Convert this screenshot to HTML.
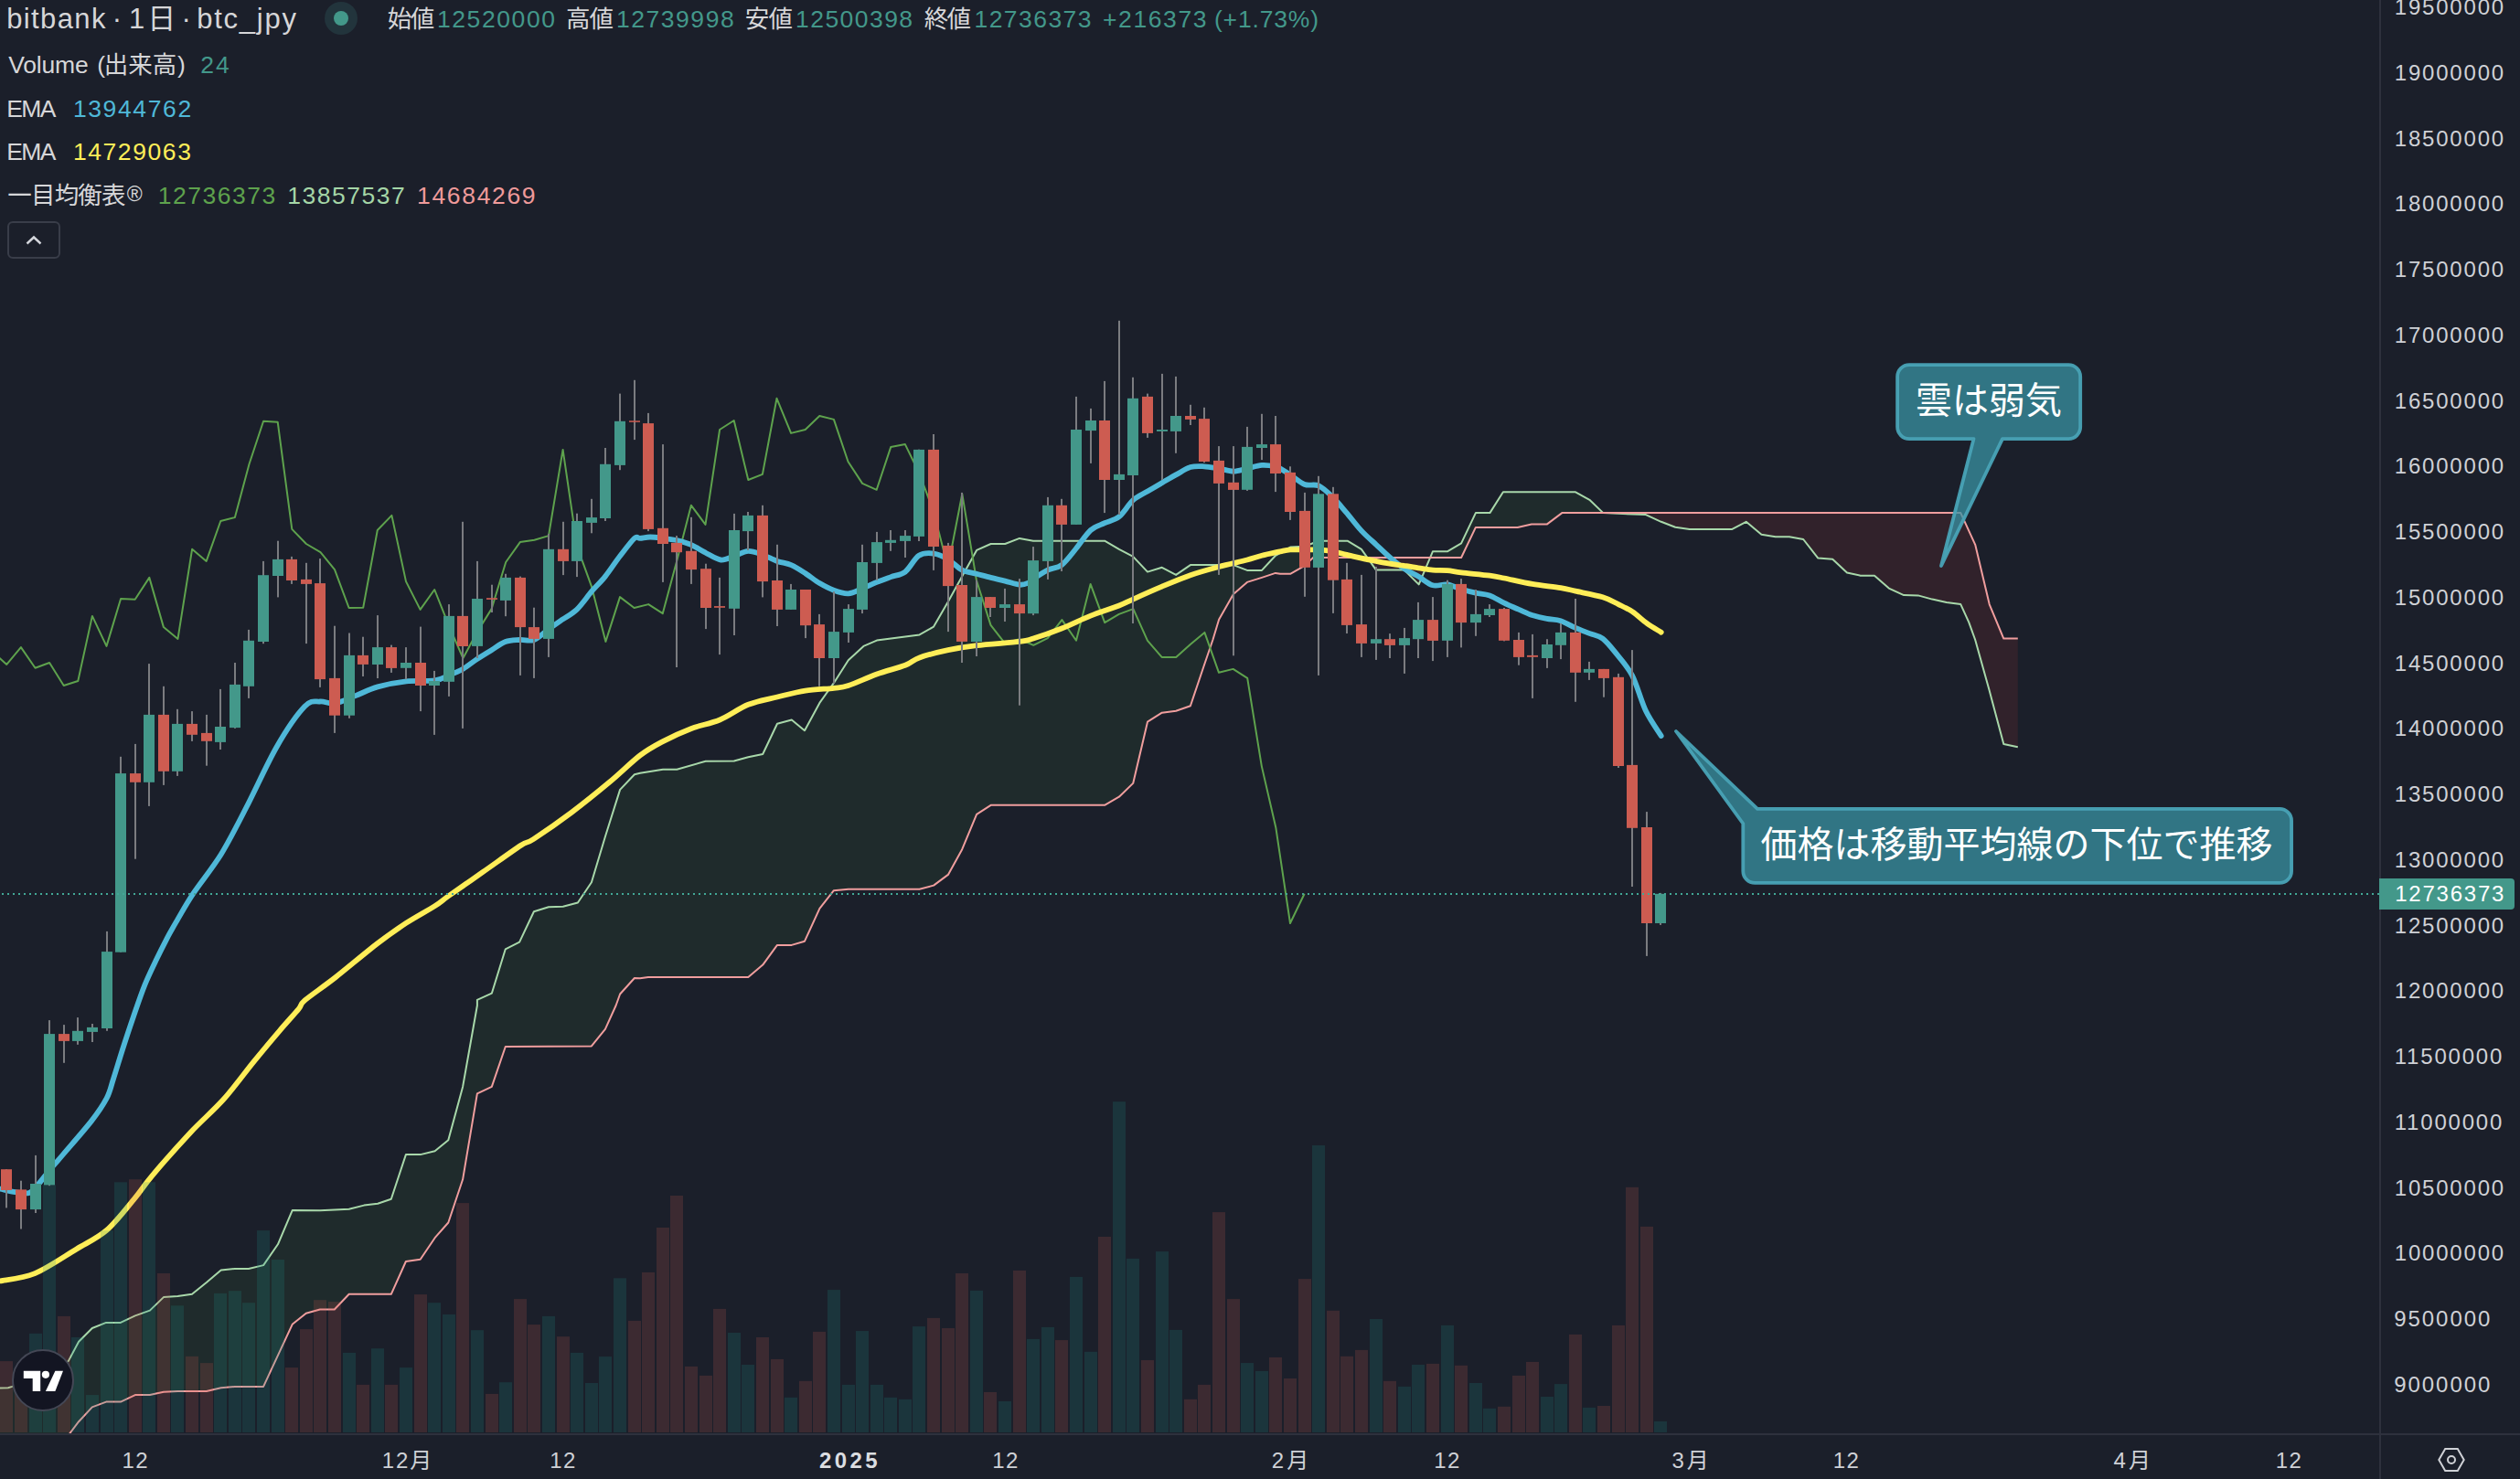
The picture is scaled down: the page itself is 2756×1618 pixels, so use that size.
<!DOCTYPE html><html><head><meta charset="utf-8"><title>chart</title><style>
html,body{margin:0;padding:0;background:#1b1f2a;}body{width:2756px;height:1618px;position:relative;overflow:hidden;font-family:"Liberation Sans","Noto Sans CJK JP",sans-serif;color:#d1d4dc;}
.t{position:absolute;white-space:nowrap;line-height:1;}
</style></head><body>
<svg width="2756" height="1618" viewBox="0 0 2756 1618" style="position:absolute;left:0;top:0">
<defs><clipPath id="cp"><rect x="0" y="0" width="2602" height="1568"/></clipPath></defs>
<g clip-path="url(#cp)">
<path d="M-2.8 1518.6 L0 1518.5 L8.9 1518.3 L13.3 1516.9 L22.8 1513.6 L27.8 1511.4 L38.9 1506.6 L53.9 1502.4 L55.6 1501.6 L69.4 1494.1 L75 1488.6 L76.4 1486 L86.1 1467.7 L100.8 1453 L116.1 1446.9 L131.9 1446.9 L147.8 1439.4 L163.9 1433.6 L178.9 1419.1 L194.4 1418 L210 1415.8 L225.8 1403 L241.7 1389.4 L256.9 1388 L271.9 1388 L288.1 1384.1 L303.9 1361.3 L319.7 1324.1 L334.7 1324.1 L350 1324.2 L365.8 1323.5 L381.7 1322.8 L398.1 1318.6 L413.1 1316.7 L427.8 1311.7 L443.9 1263.1 L459.7 1263.1 L475.6 1259.2 L490.3 1247.2 L506.1 1188.9 L521.9 1093.9 L537.8 1086.7 L552.8 1038.3 L568.1 1030.6 L583.9 997.2 L600 992.2 L615.8 991.7 L631.9 987.5 L646.9 965.3 L661.9 915.3 L673.6 878.1 L678.1 863.9 L693.9 847.2 L700 845.8 L708.9 844.4 L725 841.7 L740.3 841.7 L771.7 832.8 L802.8 832.5 L818.3 828.3 L834.2 825 L850 791.7 L865.8 787.5 L880 799.2 L896.4 768.9 L911.9 747.2 L927.8 722.2 L944.4 706.9 L958.9 700.6 L974.4 698.6 L990 696.4 L1005.6 694.4 L1021.1 685.6 L1036.9 658.3 L1052.2 630.6 L1068.1 601.9 L1083.6 595 L1099.2 595 L1115 588.9 L1130 591.7 L1208.1 591.7 L1223.9 600.8 L1239.2 608.9 L1255 625.6 L1270.8 620.8 L1286.1 628.9 L1301.9 618.1 L1316.9 618.1 L1326.4 618.1 L1333.1 618.1 L1348.9 618.1 L1363.9 623.9 L1380 623.9 L1395 607.8 L1400 604.9 L1411.1 598.6 L1426.9 597.8 L1436.1 594.1 L1442.2 591.7 L1473.6 591.7 L1488.9 600.8 L1495.4 610 L1495.4 610 L1488.9 610 L1473.6 610 L1442.2 610 L1436.1 610 L1426.9 618.9 L1411.1 627.8 L1400 627.8 L1395 626.9 L1380 631.9 L1363.9 636.9 L1348.9 650 L1333.1 677.8 L1326.4 700 L1316.9 727.8 L1301.9 772.2 L1286.1 777.8 L1270.8 779.7 L1255 789.7 L1239.2 856.9 L1223.9 871.7 L1208.1 880.8 L1130 880.8 L1115 880.8 L1099.2 880.8 L1083.6 880.8 L1068.1 890.8 L1052.2 929.2 L1036.9 956.9 L1021.1 968.6 L1005.6 972.8 L990 972.8 L974.4 972.8 L958.9 972.8 L944.4 972.8 L927.8 972.8 L911.9 974.2 L896.4 993.9 L880 1029.7 L865.8 1033.9 L850 1033.9 L834.2 1055.6 L818.3 1068.9 L802.8 1068.9 L771.7 1068.9 L740.3 1068.9 L725 1068.9 L708.9 1068.9 L700 1070.3 L693.9 1070 L678.1 1087.5 L673.6 1100 L661.9 1125.8 L646.9 1144.4 L631.9 1144.5 L615.8 1144.6 L600 1144.7 L583.9 1144.8 L568.1 1144.9 L552.8 1145 L537.8 1188.9 L521.9 1196.4 L506.1 1290.3 L490.3 1337.5 L475.6 1354.2 L459.7 1377.8 L443.9 1380 L427.8 1415.8 L413.1 1415.8 L398.1 1415.8 L381.7 1415.8 L365.8 1432.5 L350 1432.5 L334.7 1436.7 L319.7 1448.8 L303.9 1482.9 L288.1 1516.9 L271.9 1516.9 L256.9 1516.9 L241.7 1518.3 L225.8 1521.9 L210 1521.9 L194.4 1521.9 L178.9 1522.7 L163.9 1526.1 L147.8 1526.1 L131.9 1533.6 L116.1 1533.6 L100.8 1539.4 L86.1 1555.2 L76.4 1568 L75 1569.9 L69.4 1577.6 L55.6 1596.9 L53.9 1599.6 L38.9 1623.6 L27.8 1641.3 L22.8 1648.3 L13.3 1661.6 L8.9 1667.8 L0 1680.2 L-2.8 1680.2ZM1564.1 610 L1566.9 603.3 L1582.8 603.3 L1598.1 594.4 L1613.9 561.1 L1629.4 561.1 L1643.9 538.3 L1659.7 538.3 L1675 538.3 L1691.7 538.3 L1708.3 538.3 L1723.1 538.3 L1738.9 547.2 L1753.3 561.1 L1753.3 561.1 L1738.9 561.1 L1723.1 561.1 L1708.3 561.1 L1691.7 573.6 L1675 573.6 L1659.7 576.9 L1643.9 576.9 L1629.4 576.9 L1613.9 576.9 L1598.1 610 L1582.8 610 L1566.9 610 L1564.1 610Z" fill="rgba(67,160,71,0.1)"/>
<path d="M1495.4 610 L1505 623.6 L1535.8 623.6 L1551.7 639.4 L1564.1 610 L1564.1 610 L1551.7 610 L1535.8 610 L1505 610 L1495.4 610ZM1753.3 561.1 L1800 563.1 L1816.7 570.8 L1832.2 576.7 L1847.8 578.9 L1894.4 578.9 L1909.7 570.8 L1926.4 584.7 L1941.7 587.2 L1956.9 587.2 L1972.2 590 L1988.3 610.6 L2004.2 611.7 L2020 626.4 L2034.7 629.7 L2050 629.7 L2065.8 643.6 L2082.1 651.1 L2097.7 651.4 L2113.2 655.6 L2128.8 658.9 L2144.3 661.1 L2153.2 680.6 L2160.2 700 L2175.7 755.6 L2191.3 813.9 L2206.8 817.2 L2206.8 698.6 L2191.3 698.6 L2175.7 661.1 L2160.2 595.8 L2153.2 580.6 L2144.3 561.1 L2128.8 561.1 L2113.2 561.1 L2097.7 561.1 L2082.1 561.1 L2065.8 561.1 L2050 561.1 L2034.7 561.1 L2020 561.1 L2004.2 561.1 L1988.3 561.1 L1972.2 561.1 L1956.9 561.1 L1941.7 561.1 L1926.4 561.1 L1909.7 561.1 L1894.4 561.1 L1847.8 561.1 L1832.2 561.1 L1816.7 561.1 L1800 561.1 L1753.3 561.1Z" fill="rgba(244,67,54,0.1)"/>
<path d="M-2.8 1518.6 L8.9 1518.3 L13.3 1516.9 L22.8 1513.6 L38.9 1506.6 L53.9 1502.4 L69.4 1494.1 L75 1488.6 L86.1 1467.7 L100.8 1453 L116.1 1446.9 L131.9 1446.9 L147.8 1439.4 L163.9 1433.6 L178.9 1419.1 L194.4 1418 L210 1415.8 L225.8 1403 L241.7 1389.4 L256.9 1388 L271.9 1388 L288.1 1384.1 L303.9 1361.3 L319.7 1324.1 L350 1324.2 L381.7 1322.8 L398.1 1318.6 L413.1 1316.7 L427.8 1311.7 L443.9 1263.1 L459.7 1263.1 L475.6 1259.2 L490.3 1247.2 L506.1 1188.9 L521.9 1100 L521.9 1093.9 L537.8 1086.7 L552.8 1038.3 L568.1 1030.6 L583.9 997.2 L600 992.2 L615.8 991.7 L631.9 987.5 L646.9 965.3 L661.9 915.3 L678.1 863.9 L693.9 847.2 L700 845.8 L725 841.7 L740.3 841.7 L771.7 832.8 L802.8 832.5 L818.3 828.3 L834.2 825 L850 791.7 L865.8 787.5 L880 799.2 L896.4 768.9 L911.9 747.2 L927.8 722.2 L944.4 706.9 L958.9 700.6 L974.4 698.6 L990 696.4 L1005.6 694.4 L1021.1 685.6 L1036.9 658.3 L1052.2 630.6 L1068.1 601.9 L1083.6 595 L1099.2 595 L1115 588.9 L1130 591.7 L1208.1 591.7 L1223.9 600.8 L1239.2 608.9 L1255 625.6 L1270.8 620.8 L1286.1 628.9 L1301.9 618.1 L1348.9 618.1 L1363.9 623.9 L1380 623.9 L1395 607.8 L1411.1 598.6 L1426.9 597.8 L1442.2 591.7 L1473.6 591.7 L1488.9 600.8 L1505 623.6 L1535.8 623.6 L1551.7 639.4 L1566.9 603.3 L1582.8 603.3 L1598.1 594.4 L1613.9 561.1 L1629.4 561.1 L1643.9 538.3 L1723.1 538.3 L1738.9 547.2 L1753.3 561.1 L1800 563.1 L1816.7 570.8 L1832.2 576.7 L1847.8 578.9 L1894.4 578.9 L1909.7 570.8 L1926.4 584.7 L1941.7 587.2 L1956.9 587.2 L1972.2 590 L1988.3 610.6 L2004.2 611.7 L2020 626.4 L2034.7 629.7 L2050 629.7 L2065.8 643.6 L2082.1 651.1 L2097.7 651.4 L2113.2 655.6 L2128.8 658.9 L2144.3 661.1 L2153.2 680.6 L2160.2 700 L2175.7 755.6 L2191.3 813.9 L2206.8 817.2" fill="none" stroke="#a8d8aa" stroke-width="2" stroke-linejoin="round"/>
<path d="M0 1680.2 L27.8 1641.3 L55.6 1596.9 L76.4 1568 L86.1 1555.2 L100.8 1539.4 L116.1 1533.6 L131.9 1533.6 L147.8 1526.1 L163.9 1526.1 L178.9 1522.7 L194.4 1521.9 L225.8 1521.9 L241.7 1518.3 L256.9 1516.9 L288.1 1516.9 L319.7 1448.8 L334.7 1436.7 L350 1432.5 L365.8 1432.5 L381.7 1415.8 L427.8 1415.8 L443.9 1380 L459.7 1377.8 L475.6 1354.2 L490.3 1337.5 L506.1 1290.3 L521.9 1196.4 L537.8 1188.9 L552.8 1145 L646.9 1144.4 L661.9 1125.8 L673.6 1100 L678.1 1087.5 L693.9 1070 L700 1070.3 L708.9 1068.9 L818.3 1068.9 L834.2 1055.6 L850 1033.9 L865.8 1033.9 L880 1029.7 L896.4 993.9 L911.9 974.2 L927.8 972.8 L1005.6 972.8 L1021.1 968.6 L1036.9 956.9 L1052.2 929.2 L1068.1 890.8 L1083.6 880.8 L1208.1 880.8 L1223.9 871.7 L1239.2 856.9 L1255 789.7 L1270.8 779.7 L1286.1 777.8 L1301.9 772.2 L1316.9 727.8 L1326.4 700 L1333.1 677.8 L1348.9 650 L1363.9 636.9 L1380 631.9 L1395 626.9 L1400 627.8 L1411.1 627.8 L1426.9 618.9 L1436.1 610 L1598.1 610 L1613.9 576.9 L1659.7 576.9 L1675 573.6 L1691.7 573.6 L1708.3 561.1 L2144.3 561.1 L2160.2 595.8 L2175.7 661.1 L2191.3 698.6 L2206.8 698.6" fill="none" stroke="#f09e9e" stroke-width="2" stroke-linejoin="round"/>
<path d="M-8.1 713 L7.3 726.9 L22.9 708.1 L38.5 730.8 L54.1 725 L69.7 750 L85.3 745 L100.9 673.9 L116.5 706.9 L132.1 655 L147.7 655.8 L163.3 631.9 L178.9 686.1 L194.5 698.9 L210.1 600.8 L225.7 613.9 L241.3 570 L256.9 566.1 L272.5 507.8 L288.1 460.8 L303.7 461.7 L319.3 578.9 L334.9 595 L350.5 604.2 L366 623.1 L381.6 665 L397.2 664.7 L412.8 580 L428.4 563.9 L444 636.1 L459.6 666.9 L475.2 645 L490.8 684.2 L506.4 720 L522 691.1 L537.6 666.1 L553.2 615 L568.8 593.1 L584.4 590.8 L600 586.1 L615.6 491.9 L631.2 598.1 L646.8 641.1 L662.4 701.9 L678 653.1 L693.6 665 L709.2 661.1 L724.8 671.1 L740.4 613.1 L755.9 552.8 L771.5 573.9 L787.1 470 L802.7 460 L818.3 525 L833.9 518.9 L849.5 435.8 L865.1 473.9 L880.7 470 L896.3 455 L911.9 458.9 L927.5 505 L943.1 528.9 L958.7 535.8 L974.3 488.9 L989.9 486.1 L1005.5 518.1 L1021.1 560 L1036.7 620.8 L1052.3 540.3 L1067.9 634.7 L1083.5 683.9 L1099.1 703.9 L1114.7 699.2 L1130.3 705.8 L1145.8 698.1 L1161.4 678.1 L1177 700.8 L1192.6 638.9 L1208.2 681.1 L1223.8 671.9 L1239.4 666.1 L1255 700.8 L1270.6 718.9 L1286.2 718.9 L1301.8 705 L1317.4 691.9 L1333 735.8 L1348.6 731.9 L1364.2 741.9 L1379.8 838.1 L1395.4 905.8 L1411 1010 L1426.6 977.8" fill="none" stroke="#5ea24d" stroke-width="2" stroke-linejoin="round"/>
<path d="M0 1300.6 C2.7 1301.1 11.6 1303.5 16.7 1304.2 C21.8 1304.9 27.9 1306.3 31.9 1305 C35.9 1303.7 38.2 1299.7 41.7 1295.8 C45.2 1291.9 49.4 1285.9 53.9 1280.6 C58.3 1275.2 62.1 1271.2 69.4 1262.5 C76.8 1253.8 92.4 1236.2 100 1226.4 C107.6 1216.6 112.8 1208.8 116.7 1201.4 C120.5 1194 121.3 1188.5 124.1 1180 C126.9 1171.5 130.4 1159.4 133.9 1148.5 C137.4 1137.6 142.1 1123.3 146 1112 C149.9 1100.7 154.3 1087.6 158.2 1077.9 C162.1 1068.2 166.5 1059.3 170.4 1051.1 C174.3 1042.9 178.7 1034.1 182.5 1026.8 C186.3 1019.5 189.9 1013.4 194.4 1005.6 C199 997.7 203.6 989.1 211.1 977.8 C218.7 966.4 232.3 949.8 241.7 934.7 C251 919.6 259.7 902.2 269.4 883.3 C279.2 864.4 292.6 834.4 302.8 816.7 C313 799 325.8 780.6 333.3 772.8 C340.9 764.9 344.7 768 350 767.5 C355.3 767 360.4 770.5 366.7 769.4 C372.9 768.4 381.5 764 388.9 761.1 C396.3 758.2 404.2 753.9 413.1 751.4 C421.9 748.9 434.4 746.4 444.4 745.3 C454.4 744.2 468.1 745.5 475.6 744.4 C483 743.4 486 740.9 490.8 738.9 C495.7 736.9 501.1 734.9 506 732.1 C510.9 729.3 516.6 724.4 521.6 721.1 C526.6 717.8 532.2 714.4 537.2 711.4 C542.2 708.4 547.8 703.9 552.8 702.1 C557.8 700.3 563.4 700.4 568.4 700 C573.4 699.6 579 701.7 584 699.9 C589 698.1 594.6 692.3 599.6 688.7 C604.6 685.1 610.2 681.2 615.2 677.7 C620.2 674.2 625.7 671.7 630.8 666.8 C635.9 661.9 642 653 646.9 647.2 C651.9 641.4 657 636.8 661.9 630.6 C666.9 624.3 672.9 615 678.1 608.3 C683.2 601.7 690.4 592 693.9 588.9 C697.4 585.8 697.2 589.1 700 588.9 C702.8 588.7 707.1 587.5 711.1 587.5 C715.1 587.5 720.3 588.3 725 588.9 C729.7 589.5 735.4 590 740.3 591.1 C745.2 592.2 750.5 593.7 755.6 595.8 C760.6 598 766.4 602.1 771.7 604.7 C776.9 607.4 783.4 611.9 788.3 612.5 C793.3 613.1 798 609.9 802.8 608.3 C807.6 606.8 813.3 603 818.3 602.8 C823.4 602.6 829.1 605.2 834.2 606.9 C839.2 608.7 845 612.1 850 613.9 C855 615.7 860.3 615.9 865.3 618.1 C870.2 620.2 875.9 624 880.8 627.2 C885.8 630.4 891.4 635.1 896.4 638.1 C901.4 641 906.9 644 911.9 645.8 C917 647.7 922.8 649.8 927.8 649.4 C932.8 649.1 938.1 645.9 943.1 643.9 C948 641.9 953.9 639 958.9 636.9 C963.9 634.9 969.5 632.9 974.4 631.1 C979.4 629.3 985.1 629.3 990 625.6 C994.9 621.8 1000 611 1005 607.8 C1010 604.6 1016 604.9 1021.1 605.6 C1026.2 606.2 1032 609.1 1036.9 611.9 C1041.9 614.8 1047.2 621.1 1052.2 623.6 C1057.2 626.1 1063 626.4 1068.1 627.8 C1073.1 629.1 1078.6 630.7 1083.6 631.9 C1088.6 633.2 1094.1 634.3 1099.2 635.6 C1104.2 636.8 1110.9 639.4 1115 639.7 C1119.1 640 1122.6 638.5 1125 637.5 C1127.4 636.5 1126.7 635.6 1130 633.3 C1133.3 631.1 1140.9 626.1 1145.8 623.6 C1150.8 621.2 1156.1 621.8 1161.1 618.1 C1166.1 614.3 1171.9 606.1 1176.9 600 C1182 593.9 1187.8 584.4 1192.8 580 C1197.8 575.6 1203.1 574.6 1208.1 572.2 C1213 569.9 1218.9 569.3 1223.9 565.3 C1228.9 561.3 1234.2 551.7 1239.2 547.2 C1244.1 542.8 1249.9 540.5 1255 537.5 C1260.1 534.5 1265.9 531.2 1270.8 528.3 C1275.8 525.4 1281.1 522.2 1286.1 519.4 C1291.1 516.7 1297 512.6 1301.9 511.1 C1306.9 509.6 1312 510.1 1316.9 510.3 C1321.9 510.5 1327.9 511.7 1333.1 512.5 C1338.2 513.3 1344 515.6 1348.9 515.6 C1353.8 515.6 1358.9 513.6 1363.9 512.5 C1368.9 511.4 1375 509.2 1380 508.9 C1385 508.5 1391.8 509.7 1395 510.3 C1398.2 510.9 1397.4 511 1400 512.5 C1402.6 514 1406.8 516.6 1411.1 519.4 C1415.4 522.2 1422 528.1 1426.9 530 C1431.9 531.9 1437.2 529.1 1442.2 531.4 C1447.2 533.7 1453.2 539.7 1458.1 544.4 C1462.9 549.2 1467.8 555.3 1472.8 561.1 C1477.7 566.9 1483.7 575 1488.9 580.6 C1494 586.1 1500 591.2 1505 595.8 C1510 600.5 1515.1 605.5 1520 609.7 C1524.9 613.9 1530.9 618.9 1535.8 622.2 C1540.8 625.6 1546.1 627.7 1551.1 630.6 C1556.1 633.4 1561.9 638.9 1566.9 640.3 C1572 641.7 1577.8 638.8 1582.8 639.4 C1587.8 640.1 1593.1 643 1598.1 644.4 C1603 645.9 1608.9 647.5 1613.9 648.6 C1618.9 649.7 1624.2 649.6 1629.2 651.4 C1634.1 653.2 1639.9 657.3 1645 659.7 C1650.1 662.2 1655.9 664.5 1660.8 666.7 C1665.8 668.8 1670.9 671.4 1675.8 673.1 C1680.8 674.7 1686.7 676 1691.7 676.9 C1696.6 677.9 1701.9 677.6 1706.9 679.2 C1712 680.8 1717.9 684.7 1723.1 686.9 C1728.2 689.2 1734.1 691.2 1738.9 693.1 C1743.6 694.9 1748.3 695.3 1752.8 698.6 C1757.2 701.9 1761.5 707.4 1766.7 713.9 C1771.8 720.3 1779.7 728.7 1785 738.9 C1790.3 749.1 1794.9 767.2 1800 777.8 C1805.1 788.4 1814 800.6 1816.7 805" fill="none" stroke="#4fb8d8" stroke-width="5.8" stroke-linejoin="round" stroke-linecap="round"/>
<path d="M0 1401.4 C6.1 1400.1 24.7 1398.6 38.1 1393.1 C51.4 1387.5 70.8 1374.2 83.3 1366.7 C95.9 1359.1 106.4 1354.7 116.7 1345.8 C126.9 1336.9 139.2 1320.7 147.2 1311.1 C155.2 1301.5 156.9 1297.4 166.7 1285.8 C176.4 1274.3 195.9 1252.2 208.3 1238.9 C220.8 1225.6 233.3 1215.2 244.4 1202.8 C255.6 1190.3 268 1173.1 277.8 1161.1 C287.6 1149.1 297.8 1136.9 305.6 1127.8 C313.3 1118.7 321.9 1109.5 326.4 1104.2 C330.8 1098.8 326.9 1100 333.3 1094.4 C339.8 1088.9 353.9 1079.4 366.7 1069.4 C379.4 1059.4 400.6 1041.5 413.1 1031.9 C425.5 1022.4 434.4 1016.3 444.4 1009.7 C454.4 1003.2 468.1 995.9 475.6 991.1 C483 986.4 482.5 985.9 490.8 980 C499.2 974.1 515.2 963 527.8 954.2 C540.4 945.4 560.6 930.8 569.4 925 C578.3 919.2 574.4 923.8 583.3 918.1 C592.2 912.3 611.7 898.9 625 888.9 C638.3 878.9 654.7 865.6 666.7 855.6 C678.7 845.6 690.7 833.5 700 826.4 C709.3 819.3 716.1 815.8 725 811.1 C733.9 806.4 745.6 801 755.6 797.2 C765.5 793.4 777.2 791.7 787.2 787.5 C797.3 783.3 808.3 774.8 818.3 770.8 C828.4 766.8 840 764.9 850 762.5 C860 760.1 870.9 757.1 880.8 755.6 C890.7 754 904.4 753.7 911.9 752.8 C919.5 751.9 920.3 752.4 927.8 750 C935.3 747.6 948.9 741.1 958.9 737.5 C968.8 733.9 982.5 730.7 990 727.8 C997.5 724.9 998 722.1 1005.6 719.4 C1013.1 716.8 1026.9 713.2 1036.9 711.1 C1046.9 709 1055.6 707.6 1068.1 706.1 C1080.5 704.6 1105.1 703.1 1115 701.9 C1124.9 700.7 1122.6 700.9 1130 698.6 C1137.4 696.3 1151.1 691.5 1161.1 687.5 C1171.2 683.5 1182.7 677.6 1192.8 673.6 C1202.8 669.6 1216.5 665.4 1223.9 662.5 C1231.3 659.6 1231.7 658.9 1239.2 655.6 C1246.7 652.2 1260.8 645.9 1270.8 641.7 C1280.9 637.4 1292 632.6 1301.9 629.2 C1311.9 625.7 1323.1 622.7 1333.1 620 C1343 617.3 1356.4 614.5 1363.9 612.5 C1371.4 610.5 1374.2 609.2 1380 607.8 C1385.8 606.3 1395 604.4 1400 603.3 C1405 602.3 1406.8 601.7 1411.1 601.4 C1415.4 601.1 1422 601.4 1426.9 601.4 C1431.9 601.4 1437.2 601.1 1442.2 601.4 C1447.2 601.7 1453.2 602.4 1458.1 603.3 C1462.9 604.2 1467.8 605.8 1472.8 606.9 C1477.7 608.1 1483.7 609.4 1488.9 610.6 C1494 611.7 1500 612.9 1505 613.9 C1510 614.9 1515.1 615.9 1520 616.7 C1524.9 617.5 1530.9 618.1 1535.8 618.9 C1540.8 619.6 1546.1 620.6 1551.1 621.4 C1556.1 622.1 1561.9 623.2 1566.9 623.6 C1572 624.1 1577.8 623.7 1582.8 624.2 C1587.8 624.6 1590.6 625.5 1598.1 626.4 C1605.5 627.3 1621.7 628.7 1629.2 629.7 C1636.7 630.7 1637.5 631 1645 632.5 C1652.5 634 1665.9 637.2 1675.8 638.9 C1685.7 640.6 1699.4 641.8 1706.9 643.1 C1714.5 644.3 1715.7 645 1723.1 646.7 C1730.4 648.3 1745.3 651 1752.8 653.3 C1760.3 655.6 1764.8 658.5 1770 661.1 C1775.2 663.7 1780.6 666.1 1785.6 669.4 C1790.5 672.8 1796.1 678.4 1801.1 681.9 C1806.1 685.5 1814.2 690.1 1816.7 691.7" fill="none" stroke="#ffee58" stroke-width="5.8" stroke-linejoin="round" stroke-linecap="round"/>
<g>
<rect x="0" y="1489.1" width="14" height="77.9" fill="rgba(205,92,81,0.19)"/>
<rect x="16" y="1502.4" width="14" height="64.6" fill="rgba(205,92,81,0.19)"/>
<rect x="32" y="1458.8" width="14" height="108.2" fill="rgba(30,145,135,0.2)"/>
<rect x="47" y="1296.3" width="14" height="270.7" fill="rgba(30,145,135,0.2)"/>
<rect x="63" y="1439.9" width="14" height="127.1" fill="rgba(205,92,81,0.19)"/>
<rect x="78" y="1463" width="14" height="104" fill="rgba(30,145,135,0.2)"/>
<rect x="94" y="1526.1" width="14" height="40.9" fill="rgba(30,145,135,0.2)"/>
<rect x="110" y="1346.1" width="14" height="220.9" fill="rgba(30,145,135,0.2)"/>
<rect x="125" y="1293.3" width="14" height="273.7" fill="rgba(30,145,135,0.2)"/>
<rect x="141" y="1290.2" width="14" height="276.8" fill="rgba(205,92,81,0.19)"/>
<rect x="156" y="1293.3" width="14" height="273.7" fill="rgba(30,145,135,0.2)"/>
<rect x="172" y="1393" width="14" height="174" fill="rgba(205,92,81,0.19)"/>
<rect x="187" y="1428.3" width="14" height="138.7" fill="rgba(30,145,135,0.2)"/>
<rect x="203" y="1483.8" width="14" height="83.2" fill="rgba(205,92,81,0.19)"/>
<rect x="219" y="1491.1" width="14" height="75.9" fill="rgba(205,92,81,0.19)"/>
<rect x="234" y="1414.9" width="14" height="152.1" fill="rgba(30,145,135,0.2)"/>
<rect x="250" y="1412.2" width="14" height="154.8" fill="rgba(30,145,135,0.2)"/>
<rect x="265" y="1425.2" width="14" height="141.8" fill="rgba(30,145,135,0.2)"/>
<rect x="281" y="1346.1" width="14" height="220.9" fill="rgba(30,145,135,0.2)"/>
<rect x="297" y="1378" width="14" height="189" fill="rgba(30,145,135,0.2)"/>
<rect x="312" y="1496.1" width="14" height="70.9" fill="rgba(205,92,81,0.19)"/>
<rect x="328" y="1454.1" width="14" height="112.9" fill="rgba(205,92,81,0.19)"/>
<rect x="343" y="1422.2" width="14" height="144.8" fill="rgba(205,92,81,0.19)"/>
<rect x="359" y="1424.1" width="14" height="142.9" fill="rgba(205,92,81,0.19)"/>
<rect x="375" y="1479.9" width="14" height="87.1" fill="rgba(30,145,135,0.2)"/>
<rect x="390" y="1514.9" width="14" height="52.1" fill="rgba(205,92,81,0.19)"/>
<rect x="406" y="1475.2" width="14" height="91.8" fill="rgba(30,145,135,0.2)"/>
<rect x="421" y="1514.9" width="14" height="52.1" fill="rgba(205,92,81,0.19)"/>
<rect x="437" y="1496.1" width="14" height="70.9" fill="rgba(30,145,135,0.2)"/>
<rect x="453" y="1416.1" width="14" height="150.9" fill="rgba(205,92,81,0.19)"/>
<rect x="468" y="1425.2" width="14" height="141.8" fill="rgba(30,145,135,0.2)"/>
<rect x="484" y="1438" width="14" height="129" fill="rgba(30,145,135,0.2)"/>
<rect x="499" y="1316.1" width="14" height="250.9" fill="rgba(205,92,81,0.19)"/>
<rect x="515" y="1455.2" width="14" height="111.8" fill="rgba(30,145,135,0.2)"/>
<rect x="531" y="1524.9" width="14" height="42.1" fill="rgba(205,92,81,0.19)"/>
<rect x="546" y="1512.2" width="14" height="54.8" fill="rgba(30,145,135,0.2)"/>
<rect x="562" y="1421.1" width="14" height="145.9" fill="rgba(205,92,81,0.19)"/>
<rect x="577" y="1449.1" width="14" height="117.9" fill="rgba(205,92,81,0.19)"/>
<rect x="593" y="1439.9" width="14" height="127.1" fill="rgba(30,145,135,0.2)"/>
<rect x="609" y="1462.2" width="14" height="104.8" fill="rgba(205,92,81,0.19)"/>
<rect x="624" y="1479.9" width="14" height="87.1" fill="rgba(30,145,135,0.2)"/>
<rect x="640" y="1513" width="14" height="54" fill="rgba(30,145,135,0.2)"/>
<rect x="655" y="1484.1" width="14" height="82.9" fill="rgba(30,145,135,0.2)"/>
<rect x="671" y="1398.3" width="14" height="168.7" fill="rgba(30,145,135,0.2)"/>
<rect x="687" y="1444.9" width="14" height="122.1" fill="rgba(205,92,81,0.19)"/>
<rect x="702" y="1391.9" width="14" height="175.1" fill="rgba(205,92,81,0.19)"/>
<rect x="718" y="1343" width="14" height="224" fill="rgba(205,92,81,0.19)"/>
<rect x="733" y="1308" width="14" height="259" fill="rgba(205,92,81,0.19)"/>
<rect x="749" y="1494.9" width="14" height="72.1" fill="rgba(205,92,81,0.19)"/>
<rect x="765" y="1504.9" width="14" height="62.1" fill="rgba(205,92,81,0.19)"/>
<rect x="780" y="1431.9" width="14" height="135.1" fill="rgba(205,92,81,0.19)"/>
<rect x="796" y="1458" width="14" height="109" fill="rgba(30,145,135,0.2)"/>
<rect x="811" y="1493" width="14" height="74" fill="rgba(30,145,135,0.2)"/>
<rect x="827" y="1463" width="14" height="104" fill="rgba(205,92,81,0.19)"/>
<rect x="843" y="1486.9" width="14" height="80.1" fill="rgba(205,92,81,0.19)"/>
<rect x="858" y="1528.8" width="14" height="38.2" fill="rgba(30,145,135,0.2)"/>
<rect x="874" y="1510.8" width="14" height="56.2" fill="rgba(205,92,81,0.19)"/>
<rect x="889" y="1456.9" width="14" height="110.1" fill="rgba(205,92,81,0.19)"/>
<rect x="905" y="1411.1" width="14" height="155.9" fill="rgba(30,145,135,0.2)"/>
<rect x="921" y="1514.9" width="14" height="52.1" fill="rgba(30,145,135,0.2)"/>
<rect x="936" y="1456.1" width="14" height="110.9" fill="rgba(30,145,135,0.2)"/>
<rect x="952" y="1514.9" width="14" height="52.1" fill="rgba(30,145,135,0.2)"/>
<rect x="967" y="1528.8" width="14" height="38.2" fill="rgba(30,145,135,0.2)"/>
<rect x="983" y="1530.8" width="14" height="36.2" fill="rgba(30,145,135,0.2)"/>
<rect x="998" y="1451.1" width="14" height="115.9" fill="rgba(30,145,135,0.2)"/>
<rect x="1014" y="1441.9" width="14" height="125.1" fill="rgba(205,92,81,0.19)"/>
<rect x="1030" y="1453" width="14" height="114" fill="rgba(205,92,81,0.19)"/>
<rect x="1045" y="1393" width="14" height="174" fill="rgba(205,92,81,0.19)"/>
<rect x="1061" y="1411.9" width="14" height="155.1" fill="rgba(30,145,135,0.2)"/>
<rect x="1076" y="1523" width="14" height="44" fill="rgba(205,92,81,0.19)"/>
<rect x="1092" y="1533" width="14" height="34" fill="rgba(30,145,135,0.2)"/>
<rect x="1108" y="1389.9" width="14" height="177.1" fill="rgba(205,92,81,0.19)"/>
<rect x="1123" y="1464.9" width="14" height="102.1" fill="rgba(30,145,135,0.2)"/>
<rect x="1139" y="1451.9" width="14" height="115.1" fill="rgba(30,145,135,0.2)"/>
<rect x="1154" y="1466.1" width="14" height="100.9" fill="rgba(205,92,81,0.19)"/>
<rect x="1170" y="1396.9" width="14" height="170.1" fill="rgba(30,145,135,0.2)"/>
<rect x="1186" y="1478.8" width="14" height="88.2" fill="rgba(30,145,135,0.2)"/>
<rect x="1201" y="1353" width="14" height="214" fill="rgba(205,92,81,0.19)"/>
<rect x="1217" y="1205.2" width="14" height="361.8" fill="rgba(30,145,135,0.2)"/>
<rect x="1232" y="1376.9" width="14" height="190.1" fill="rgba(30,145,135,0.2)"/>
<rect x="1248" y="1488" width="14" height="79" fill="rgba(205,92,81,0.19)"/>
<rect x="1264" y="1369.1" width="14" height="197.9" fill="rgba(30,145,135,0.2)"/>
<rect x="1279" y="1454.9" width="14" height="112.1" fill="rgba(30,145,135,0.2)"/>
<rect x="1295" y="1530.8" width="14" height="36.2" fill="rgba(205,92,81,0.19)"/>
<rect x="1310" y="1514.9" width="14" height="52.1" fill="rgba(205,92,81,0.19)"/>
<rect x="1326" y="1326.1" width="14" height="240.9" fill="rgba(205,92,81,0.19)"/>
<rect x="1342" y="1421.1" width="14" height="145.9" fill="rgba(205,92,81,0.19)"/>
<rect x="1357" y="1491.1" width="14" height="75.9" fill="rgba(30,145,135,0.2)"/>
<rect x="1373" y="1499.9" width="14" height="67.1" fill="rgba(30,145,135,0.2)"/>
<rect x="1388" y="1484.9" width="14" height="82.1" fill="rgba(205,92,81,0.19)"/>
<rect x="1404" y="1508" width="14" height="59" fill="rgba(205,92,81,0.19)"/>
<rect x="1420" y="1399.1" width="14" height="167.9" fill="rgba(205,92,81,0.19)"/>
<rect x="1435" y="1253" width="14" height="314" fill="rgba(30,145,135,0.2)"/>
<rect x="1451" y="1433.8" width="14" height="133.2" fill="rgba(205,92,81,0.19)"/>
<rect x="1466" y="1483.8" width="14" height="83.2" fill="rgba(205,92,81,0.19)"/>
<rect x="1482" y="1476.9" width="14" height="90.1" fill="rgba(205,92,81,0.19)"/>
<rect x="1498" y="1443" width="14" height="124" fill="rgba(30,145,135,0.2)"/>
<rect x="1513" y="1510.8" width="14" height="56.2" fill="rgba(205,92,81,0.19)"/>
<rect x="1529" y="1516.9" width="14" height="50.1" fill="rgba(30,145,135,0.2)"/>
<rect x="1544" y="1493" width="14" height="74" fill="rgba(30,145,135,0.2)"/>
<rect x="1560" y="1491.9" width="14" height="75.1" fill="rgba(205,92,81,0.19)"/>
<rect x="1576" y="1449.9" width="14" height="117.1" fill="rgba(30,145,135,0.2)"/>
<rect x="1591" y="1493.8" width="14" height="73.2" fill="rgba(205,92,81,0.19)"/>
<rect x="1607" y="1513" width="14" height="54" fill="rgba(30,145,135,0.2)"/>
<rect x="1622" y="1540.8" width="14" height="26.2" fill="rgba(30,145,135,0.2)"/>
<rect x="1638" y="1538.8" width="14" height="28.2" fill="rgba(205,92,81,0.19)"/>
<rect x="1654" y="1504.9" width="14" height="62.1" fill="rgba(205,92,81,0.19)"/>
<rect x="1669" y="1489.9" width="14" height="77.1" fill="rgba(205,92,81,0.19)"/>
<rect x="1685" y="1528" width="14" height="39" fill="rgba(30,145,135,0.2)"/>
<rect x="1700" y="1514.1" width="14" height="52.9" fill="rgba(30,145,135,0.2)"/>
<rect x="1716" y="1459.9" width="14" height="107.1" fill="rgba(205,92,81,0.19)"/>
<rect x="1731" y="1539.9" width="14" height="27.1" fill="rgba(30,145,135,0.2)"/>
<rect x="1747" y="1538" width="14" height="29" fill="rgba(205,92,81,0.19)"/>
<rect x="1763" y="1449.9" width="14" height="117.1" fill="rgba(205,92,81,0.19)"/>
<rect x="1778" y="1298.8" width="14" height="268.2" fill="rgba(205,92,81,0.19)"/>
<rect x="1794" y="1341.9" width="14" height="225.1" fill="rgba(205,92,81,0.19)"/>
<rect x="1809" y="1554.9" width="14" height="12.1" fill="rgba(30,145,135,0.2)"/>
</g>
<g>
<rect x="6" y="1279.2" width="2" height="42.2" fill="#7b7c80"/>
<rect x="1" y="1279.2" width="12" height="22.8" fill="#cd5c51"/>
<rect x="22" y="1291.7" width="2" height="52.8" fill="#7b7c80"/>
<rect x="17" y="1301.4" width="12" height="21.7" fill="#cd5c51"/>
<rect x="38" y="1263.9" width="2" height="63.1" fill="#7b7c80"/>
<rect x="33" y="1295" width="12" height="28.1" fill="#43988a"/>
<rect x="53" y="1116.1" width="2" height="181.1" fill="#7b7c80"/>
<rect x="48" y="1131.1" width="12" height="165.3" fill="#43988a"/>
<rect x="69" y="1121.1" width="2" height="41.7" fill="#7b7c80"/>
<rect x="64" y="1131.1" width="12" height="7.8" fill="#cd5c51"/>
<rect x="84" y="1113.1" width="2" height="29.7" fill="#7b7c80"/>
<rect x="79" y="1127.8" width="12" height="11.1" fill="#43988a"/>
<rect x="100" y="1120" width="2" height="20" fill="#7b7c80"/>
<rect x="95" y="1123.9" width="12" height="5" fill="#43988a"/>
<rect x="116" y="1018.9" width="2" height="108.9" fill="#7b7c80"/>
<rect x="111" y="1041.1" width="12" height="83.9" fill="#43988a"/>
<rect x="131" y="827.8" width="2" height="213.9" fill="#7b7c80"/>
<rect x="126" y="846.1" width="12" height="195.6" fill="#43988a"/>
<rect x="147" y="813.9" width="2" height="125.8" fill="#7b7c80"/>
<rect x="142" y="846.1" width="12" height="9.7" fill="#cd5c51"/>
<rect x="162" y="726.1" width="2" height="155.8" fill="#7b7c80"/>
<rect x="157" y="781.9" width="12" height="73.9" fill="#43988a"/>
<rect x="178" y="750.8" width="2" height="108.1" fill="#7b7c80"/>
<rect x="173" y="781.9" width="12" height="61.9" fill="#cd5c51"/>
<rect x="193" y="775.8" width="2" height="73.1" fill="#7b7c80"/>
<rect x="188" y="791.9" width="12" height="51.9" fill="#43988a"/>
<rect x="209" y="778.1" width="2" height="32.8" fill="#7b7c80"/>
<rect x="204" y="791.9" width="12" height="11.9" fill="#cd5c51"/>
<rect x="225" y="781.9" width="2" height="55.8" fill="#7b7c80"/>
<rect x="220" y="801.9" width="12" height="8.9" fill="#cd5c51"/>
<rect x="240" y="753.9" width="2" height="66.1" fill="#7b7c80"/>
<rect x="235" y="795" width="12" height="16.9" fill="#43988a"/>
<rect x="256" y="725" width="2" height="71.9" fill="#7b7c80"/>
<rect x="251" y="748.9" width="12" height="47.2" fill="#43988a"/>
<rect x="271" y="688.9" width="2" height="75" fill="#7b7c80"/>
<rect x="266" y="700.8" width="12" height="50" fill="#43988a"/>
<rect x="287" y="613.9" width="2" height="90.3" fill="#7b7c80"/>
<rect x="282" y="629.2" width="12" height="72.8" fill="#43988a"/>
<rect x="303" y="591.7" width="2" height="61.7" fill="#7b7c80"/>
<rect x="298" y="611.9" width="12" height="18.1" fill="#43988a"/>
<rect x="318" y="608.9" width="2" height="30" fill="#7b7c80"/>
<rect x="313" y="611.9" width="12" height="23.1" fill="#cd5c51"/>
<rect x="334" y="615.8" width="2" height="88.3" fill="#7b7c80"/>
<rect x="329" y="633.9" width="12" height="5" fill="#cd5c51"/>
<rect x="349" y="611.1" width="2" height="140.8" fill="#7b7c80"/>
<rect x="344" y="638.1" width="12" height="105" fill="#cd5c51"/>
<rect x="365" y="684.7" width="2" height="117.2" fill="#7b7c80"/>
<rect x="360" y="741.9" width="12" height="40.8" fill="#cd5c51"/>
<rect x="381" y="692.5" width="2" height="93.3" fill="#7b7c80"/>
<rect x="376" y="716.9" width="12" height="65.8" fill="#43988a"/>
<rect x="396" y="696.7" width="2" height="43.3" fill="#7b7c80"/>
<rect x="391" y="716.9" width="12" height="10" fill="#cd5c51"/>
<rect x="412" y="673.1" width="2" height="68.9" fill="#7b7c80"/>
<rect x="407" y="708.1" width="12" height="18.9" fill="#43988a"/>
<rect x="427" y="705.6" width="2" height="30.3" fill="#7b7c80"/>
<rect x="422" y="708.1" width="12" height="22.8" fill="#cd5c51"/>
<rect x="443" y="708.1" width="2" height="35" fill="#7b7c80"/>
<rect x="438" y="725" width="12" height="5.8" fill="#43988a"/>
<rect x="459" y="685.6" width="2" height="92.5" fill="#7b7c80"/>
<rect x="454" y="725" width="12" height="25" fill="#cd5c51"/>
<rect x="474" y="733.9" width="2" height="70" fill="#7b7c80"/>
<rect x="469" y="745" width="12" height="5" fill="#43988a"/>
<rect x="490" y="661.1" width="2" height="100.8" fill="#7b7c80"/>
<rect x="485" y="673.9" width="12" height="71.9" fill="#43988a"/>
<rect x="505" y="570.8" width="2" height="226.1" fill="#7b7c80"/>
<rect x="500" y="673.9" width="12" height="33.1" fill="#cd5c51"/>
<rect x="521" y="613.9" width="2" height="106.1" fill="#7b7c80"/>
<rect x="516" y="655" width="12" height="51.9" fill="#43988a"/>
<rect x="537" y="639.7" width="2" height="30.3" fill="#7b7c80"/>
<rect x="532" y="654.2" width="12" height="1.7" fill="#cd5c51"/>
<rect x="552" y="627.8" width="2" height="46.4" fill="#7b7c80"/>
<rect x="547" y="631.9" width="12" height="25" fill="#43988a"/>
<rect x="568" y="630.6" width="2" height="108.3" fill="#7b7c80"/>
<rect x="563" y="631.9" width="12" height="54.2" fill="#cd5c51"/>
<rect x="583" y="664.7" width="2" height="77.2" fill="#7b7c80"/>
<rect x="578" y="686.1" width="12" height="12.8" fill="#cd5c51"/>
<rect x="599" y="583.9" width="2" height="135" fill="#7b7c80"/>
<rect x="594" y="600.8" width="12" height="98.1" fill="#43988a"/>
<rect x="615" y="570.8" width="2" height="58.3" fill="#7b7c80"/>
<rect x="610" y="600.8" width="12" height="13.1" fill="#cd5c51"/>
<rect x="630" y="561.7" width="2" height="69.4" fill="#7b7c80"/>
<rect x="625" y="570" width="12" height="43.9" fill="#43988a"/>
<rect x="646" y="545.8" width="2" height="37.5" fill="#7b7c80"/>
<rect x="641" y="566.1" width="12" height="5.8" fill="#43988a"/>
<rect x="661" y="490" width="2" height="80" fill="#7b7c80"/>
<rect x="656" y="507.8" width="12" height="59.2" fill="#43988a"/>
<rect x="677" y="430.6" width="2" height="83.6" fill="#7b7c80"/>
<rect x="672" y="460.8" width="12" height="48.1" fill="#43988a"/>
<rect x="693" y="415.8" width="2" height="65.3" fill="#7b7c80"/>
<rect x="688" y="460.3" width="12" height="1.5" fill="#cd5c51"/>
<rect x="708" y="451.9" width="2" height="129.2" fill="#7b7c80"/>
<rect x="703" y="463.1" width="12" height="115.8" fill="#cd5c51"/>
<rect x="724" y="486.1" width="2" height="150.8" fill="#7b7c80"/>
<rect x="719" y="577.8" width="12" height="17.2" fill="#cd5c51"/>
<rect x="739" y="586.1" width="2" height="143.9" fill="#7b7c80"/>
<rect x="734" y="593.9" width="12" height="10.3" fill="#cd5c51"/>
<rect x="755" y="565.8" width="2" height="73.1" fill="#7b7c80"/>
<rect x="750" y="602.8" width="12" height="20.3" fill="#cd5c51"/>
<rect x="771" y="616.7" width="2" height="71.4" fill="#7b7c80"/>
<rect x="766" y="622.2" width="12" height="42.8" fill="#cd5c51"/>
<rect x="786" y="631.9" width="2" height="84.2" fill="#7b7c80"/>
<rect x="781" y="663.1" width="12" height="1.7" fill="#cd5c51"/>
<rect x="802" y="561.9" width="2" height="133.1" fill="#7b7c80"/>
<rect x="797" y="580" width="12" height="85.8" fill="#43988a"/>
<rect x="817" y="560" width="2" height="41.9" fill="#7b7c80"/>
<rect x="812" y="563.9" width="12" height="17.2" fill="#43988a"/>
<rect x="833" y="552.8" width="2" height="100.6" fill="#7b7c80"/>
<rect x="828" y="563.9" width="12" height="72.2" fill="#cd5c51"/>
<rect x="849" y="595.8" width="2" height="89.2" fill="#7b7c80"/>
<rect x="844" y="635" width="12" height="31.9" fill="#cd5c51"/>
<rect x="864" y="638.9" width="2" height="28.1" fill="#7b7c80"/>
<rect x="859" y="645" width="12" height="21.9" fill="#43988a"/>
<rect x="880" y="645" width="2" height="53.1" fill="#7b7c80"/>
<rect x="875" y="645" width="12" height="39.2" fill="#cd5c51"/>
<rect x="895" y="671.9" width="2" height="78.9" fill="#7b7c80"/>
<rect x="890" y="683.1" width="12" height="36.9" fill="#cd5c51"/>
<rect x="911" y="647.2" width="2" height="100.6" fill="#7b7c80"/>
<rect x="906" y="691.1" width="12" height="28.9" fill="#43988a"/>
<rect x="927" y="661.1" width="2" height="41.9" fill="#7b7c80"/>
<rect x="922" y="666.1" width="12" height="25.8" fill="#43988a"/>
<rect x="942" y="595.8" width="2" height="75.3" fill="#7b7c80"/>
<rect x="937" y="615" width="12" height="51.9" fill="#43988a"/>
<rect x="958" y="581.9" width="2" height="52.8" fill="#7b7c80"/>
<rect x="953" y="593.1" width="12" height="22.8" fill="#43988a"/>
<rect x="973" y="580" width="2" height="22.8" fill="#7b7c80"/>
<rect x="968" y="590.8" width="12" height="3.1" fill="#43988a"/>
<rect x="989" y="580" width="2" height="30" fill="#7b7c80"/>
<rect x="984" y="586.1" width="12" height="5.8" fill="#43988a"/>
<rect x="1004" y="491.7" width="2" height="100.3" fill="#7b7c80"/>
<rect x="999" y="491.9" width="12" height="95" fill="#43988a"/>
<rect x="1020" y="475" width="2" height="148.9" fill="#7b7c80"/>
<rect x="1015" y="491.9" width="12" height="106.1" fill="#cd5c51"/>
<rect x="1036" y="593.9" width="2" height="97.2" fill="#7b7c80"/>
<rect x="1031" y="596.9" width="12" height="44.2" fill="#cd5c51"/>
<rect x="1051" y="538.9" width="2" height="186.1" fill="#7b7c80"/>
<rect x="1046" y="640" width="12" height="61.9" fill="#cd5c51"/>
<rect x="1067" y="634.7" width="2" height="83.3" fill="#7b7c80"/>
<rect x="1062" y="653.1" width="12" height="48.9" fill="#43988a"/>
<rect x="1082" y="653.1" width="2" height="21.9" fill="#7b7c80"/>
<rect x="1077" y="653.1" width="12" height="11.9" fill="#cd5c51"/>
<rect x="1098" y="643.9" width="2" height="36.1" fill="#7b7c80"/>
<rect x="1093" y="661.1" width="12" height="3.9" fill="#43988a"/>
<rect x="1114" y="633.1" width="2" height="138.6" fill="#7b7c80"/>
<rect x="1109" y="661.1" width="12" height="10" fill="#cd5c51"/>
<rect x="1129" y="598.1" width="2" height="75" fill="#7b7c80"/>
<rect x="1124" y="613.1" width="12" height="58.1" fill="#43988a"/>
<rect x="1145" y="543.9" width="2" height="90" fill="#7b7c80"/>
<rect x="1140" y="552.8" width="12" height="61.1" fill="#43988a"/>
<rect x="1160" y="545.8" width="2" height="79.2" fill="#7b7c80"/>
<rect x="1155" y="552.8" width="12" height="21.1" fill="#cd5c51"/>
<rect x="1176" y="433.9" width="2" height="140" fill="#7b7c80"/>
<rect x="1171" y="470" width="12" height="103.9" fill="#43988a"/>
<rect x="1192" y="446.9" width="2" height="60" fill="#7b7c80"/>
<rect x="1187" y="460" width="12" height="11.1" fill="#43988a"/>
<rect x="1207" y="416.9" width="2" height="144.2" fill="#7b7c80"/>
<rect x="1202" y="460" width="12" height="65" fill="#cd5c51"/>
<rect x="1223" y="350.8" width="2" height="212.2" fill="#7b7c80"/>
<rect x="1218" y="518.9" width="12" height="6.1" fill="#43988a"/>
<rect x="1238" y="412.8" width="2" height="269.2" fill="#7b7c80"/>
<rect x="1233" y="435.8" width="12" height="84.2" fill="#43988a"/>
<rect x="1254" y="430.6" width="2" height="48.3" fill="#7b7c80"/>
<rect x="1249" y="433.9" width="12" height="40" fill="#cd5c51"/>
<rect x="1270" y="408.9" width="2" height="116.1" fill="#7b7c80"/>
<rect x="1265" y="470" width="12" height="1.9" fill="#43988a"/>
<rect x="1285" y="411.9" width="2" height="83.9" fill="#7b7c80"/>
<rect x="1280" y="455" width="12" height="16.9" fill="#43988a"/>
<rect x="1301" y="442.8" width="2" height="22.2" fill="#7b7c80"/>
<rect x="1296" y="455" width="12" height="3.9" fill="#cd5c51"/>
<rect x="1316" y="445.8" width="2" height="60.3" fill="#7b7c80"/>
<rect x="1311" y="458.1" width="12" height="46.9" fill="#cd5c51"/>
<rect x="1332" y="488.1" width="2" height="140.8" fill="#7b7c80"/>
<rect x="1327" y="503.9" width="12" height="25" fill="#cd5c51"/>
<rect x="1348" y="488.1" width="2" height="229.2" fill="#7b7c80"/>
<rect x="1343" y="527.8" width="12" height="8.1" fill="#cd5c51"/>
<rect x="1363" y="466.9" width="2" height="70" fill="#7b7c80"/>
<rect x="1358" y="488.9" width="12" height="46.9" fill="#43988a"/>
<rect x="1379" y="452.8" width="2" height="50.3" fill="#7b7c80"/>
<rect x="1374" y="486.1" width="12" height="3.9" fill="#43988a"/>
<rect x="1394" y="455" width="2" height="83.1" fill="#7b7c80"/>
<rect x="1389" y="486.1" width="12" height="31.9" fill="#cd5c51"/>
<rect x="1410" y="510.3" width="2" height="58.6" fill="#7b7c80"/>
<rect x="1405" y="516.9" width="12" height="43.1" fill="#cd5c51"/>
<rect x="1426" y="538.9" width="2" height="113.9" fill="#7b7c80"/>
<rect x="1421" y="558.9" width="12" height="61.9" fill="#cd5c51"/>
<rect x="1441" y="520.8" width="2" height="218.1" fill="#7b7c80"/>
<rect x="1436" y="540.3" width="12" height="80.6" fill="#43988a"/>
<rect x="1457" y="532.8" width="2" height="138.1" fill="#7b7c80"/>
<rect x="1452" y="540.3" width="12" height="94.4" fill="#cd5c51"/>
<rect x="1472" y="615.8" width="2" height="77.2" fill="#7b7c80"/>
<rect x="1467" y="633.9" width="12" height="50" fill="#cd5c51"/>
<rect x="1488" y="628.9" width="2" height="90" fill="#7b7c80"/>
<rect x="1483" y="683.1" width="12" height="20.8" fill="#cd5c51"/>
<rect x="1504" y="620" width="2" height="101.9" fill="#7b7c80"/>
<rect x="1499" y="699.2" width="12" height="4.7" fill="#43988a"/>
<rect x="1519" y="693.1" width="2" height="26.9" fill="#7b7c80"/>
<rect x="1514" y="699.2" width="12" height="6.7" fill="#cd5c51"/>
<rect x="1535" y="686.9" width="2" height="50" fill="#7b7c80"/>
<rect x="1530" y="698.1" width="12" height="7.8" fill="#43988a"/>
<rect x="1550" y="658.9" width="2" height="61.1" fill="#7b7c80"/>
<rect x="1545" y="678.1" width="12" height="21.1" fill="#43988a"/>
<rect x="1566" y="653.1" width="2" height="70" fill="#7b7c80"/>
<rect x="1561" y="678.1" width="12" height="22.8" fill="#cd5c51"/>
<rect x="1582" y="634.7" width="2" height="84.2" fill="#7b7c80"/>
<rect x="1577" y="638.9" width="12" height="61.9" fill="#43988a"/>
<rect x="1597" y="633.1" width="2" height="75.3" fill="#7b7c80"/>
<rect x="1592" y="638.9" width="12" height="42.2" fill="#cd5c51"/>
<rect x="1613" y="645" width="2" height="50.8" fill="#7b7c80"/>
<rect x="1608" y="671.9" width="12" height="9.2" fill="#43988a"/>
<rect x="1628" y="661.1" width="2" height="13.9" fill="#7b7c80"/>
<rect x="1623" y="666.1" width="12" height="6.9" fill="#43988a"/>
<rect x="1644" y="665" width="2" height="36.4" fill="#7b7c80"/>
<rect x="1639" y="666.1" width="12" height="34.7" fill="#cd5c51"/>
<rect x="1660" y="691.9" width="2" height="35.8" fill="#7b7c80"/>
<rect x="1655" y="700" width="12" height="18.9" fill="#cd5c51"/>
<rect x="1675" y="693.9" width="2" height="70" fill="#7b7c80"/>
<rect x="1670" y="716.9" width="12" height="1.9" fill="#cd5c51"/>
<rect x="1691" y="699.2" width="2" height="31.7" fill="#7b7c80"/>
<rect x="1686" y="705" width="12" height="15" fill="#43988a"/>
<rect x="1706" y="681.9" width="2" height="39.2" fill="#7b7c80"/>
<rect x="1701" y="691.9" width="12" height="13.9" fill="#43988a"/>
<rect x="1722" y="655" width="2" height="112.8" fill="#7b7c80"/>
<rect x="1717" y="691.9" width="12" height="43.9" fill="#cd5c51"/>
<rect x="1737" y="723.9" width="2" height="20" fill="#7b7c80"/>
<rect x="1732" y="731.9" width="12" height="3.9" fill="#43988a"/>
<rect x="1753" y="731.9" width="2" height="30.8" fill="#7b7c80"/>
<rect x="1748" y="731.9" width="12" height="10" fill="#cd5c51"/>
<rect x="1769" y="736.9" width="2" height="103.1" fill="#7b7c80"/>
<rect x="1764" y="740.8" width="12" height="97.2" fill="#cd5c51"/>
<rect x="1784" y="711.1" width="2" height="258.9" fill="#7b7c80"/>
<rect x="1779" y="836.9" width="12" height="68.9" fill="#cd5c51"/>
<rect x="1800" y="888.1" width="2" height="157.8" fill="#7b7c80"/>
<rect x="1795" y="905" width="12" height="105" fill="#cd5c51"/>
<rect x="1815" y="976.9" width="2" height="35" fill="#7b7c80"/>
<rect x="1810" y="977.8" width="12" height="32.2" fill="#43988a"/>
</g>
<line x1="2" y1="978" x2="2603" y2="978" stroke="#42a896" stroke-width="2" stroke-dasharray="2 4"/>
</g>
<rect x="2602" y="0" width="2" height="1618" fill="#2e313d"/>
<rect x="0" y="1568" width="2756" height="2" fill="#2e313d"/>
<path d="M2088.1 399.1 H2262.2 A13 13 0 0 1 2275.2 412.1 V467.1 A13 13 0 0 1 2262.2 480.1 H2190 L2123 619 L2158.5 480.1 H2088.1 A13 13 0 0 1 2075.1 467.1 V412.1 A13 13 0 0 1 2088.1 399.1Z" fill="rgba(57,147,164,0.74)" stroke="rgba(73,163,182,0.95)" stroke-width="3.8" stroke-linejoin="round"/>
<text x="2095" y="452" font-family='"Liberation Sans","Noto Sans CJK JP",sans-serif' font-size="40" fill="#fff">雲は弱気</text>
<path d="M1922 884.9 H2493.1 A13 13 0 0 1 2506.1 897.9 V952.9 A13 13 0 0 1 2493.1 965.9 H1919.3 A13 13 0 0 1 1906.3 952.9 V901 L1833 800 Z" fill="rgba(57,147,164,0.74)" stroke="rgba(73,163,182,0.95)" stroke-width="3.8" stroke-linejoin="round"/>
<text x="1925.5" y="937.8" font-family='"Liberation Sans","Noto Sans CJK JP",sans-serif' font-size="40" fill="#fff">価格は移動平均線の下位で推移</text>
</svg>
<div class="t" style="left:2618.75px;top:-3.97px;font-size:24px;letter-spacing:1.802px;color:#cfd1d6;">19500000</div>
<div class="t" style="left:2618.75px;top:67.78px;font-size:24px;letter-spacing:1.802px;color:#cfd1d6;">19000000</div>
<div class="t" style="left:2618.75px;top:139.53px;font-size:24px;letter-spacing:1.802px;color:#cfd1d6;">18500000</div>
<div class="t" style="left:2618.75px;top:211.28px;font-size:24px;letter-spacing:1.802px;color:#cfd1d6;">18000000</div>
<div class="t" style="left:2618.75px;top:283.03px;font-size:24px;letter-spacing:1.802px;color:#cfd1d6;">17500000</div>
<div class="t" style="left:2618.75px;top:354.78px;font-size:24px;letter-spacing:1.802px;color:#cfd1d6;">17000000</div>
<div class="t" style="left:2618.75px;top:426.53px;font-size:24px;letter-spacing:1.802px;color:#cfd1d6;">16500000</div>
<div class="t" style="left:2618.75px;top:498.28px;font-size:24px;letter-spacing:1.802px;color:#cfd1d6;">16000000</div>
<div class="t" style="left:2618.75px;top:570.03px;font-size:24px;letter-spacing:1.802px;color:#cfd1d6;">15500000</div>
<div class="t" style="left:2618.75px;top:641.78px;font-size:24px;letter-spacing:1.802px;color:#cfd1d6;">15000000</div>
<div class="t" style="left:2618.75px;top:713.53px;font-size:24px;letter-spacing:1.802px;color:#cfd1d6;">14500000</div>
<div class="t" style="left:2618.75px;top:785.28px;font-size:24px;letter-spacing:1.802px;color:#cfd1d6;">14000000</div>
<div class="t" style="left:2618.75px;top:857.03px;font-size:24px;letter-spacing:1.802px;color:#cfd1d6;">13500000</div>
<div class="t" style="left:2618.75px;top:928.78px;font-size:24px;letter-spacing:1.802px;color:#cfd1d6;">13000000</div>
<div class="t" style="left:2618.75px;top:1000.53px;font-size:24px;letter-spacing:1.802px;color:#cfd1d6;">12500000</div>
<div class="t" style="left:2618.75px;top:1072.28px;font-size:24px;letter-spacing:1.802px;color:#cfd1d6;">12000000</div>
<div class="t" style="left:2618.75px;top:1144.03px;font-size:24px;letter-spacing:1.802px;color:#cfd1d6;">11500000</div>
<div class="t" style="left:2618.75px;top:1215.78px;font-size:24px;letter-spacing:1.802px;color:#cfd1d6;">11000000</div>
<div class="t" style="left:2618.75px;top:1287.53px;font-size:24px;letter-spacing:1.802px;color:#cfd1d6;">10500000</div>
<div class="t" style="left:2618.75px;top:1359.28px;font-size:24px;letter-spacing:1.802px;color:#cfd1d6;">10000000</div>
<div class="t" style="left:2618.20px;top:1431.03px;font-size:24px;letter-spacing:1.952px;color:#cfd1d6;">9500000</div>
<div class="t" style="left:2618.20px;top:1502.78px;font-size:24px;letter-spacing:1.952px;color:#cfd1d6;">9000000</div>
<div class="t" style="left:2602px;top:961px;width:148px;height:34px;background:#43988a;border-radius:0 4px 4px 0"></div>
<div class="t" style="left:2619.15px;top:965.98px;font-size:24px;letter-spacing:1.781px;color:#ffffff;">12736373</div>
<div class="t" style="left:133.50px;top:1585.88px;font-size:24px;letter-spacing:1.452px;color:#cfd1d6;">12</div>
<div class="t" style="left:417.65px;top:1585.88px;font-size:24px;letter-spacing:1.952px;color:#cfd1d6;">12月</div>
<div class="t" style="left:601.18px;top:1585.88px;font-size:24px;letter-spacing:1.452px;color:#cfd1d6;">12</div>
<div class="t" style="left:895.95px;top:1585.88px;font-size:24px;letter-spacing:3.386px;color:#dcdde1;font-weight:bold;">2025</div>
<div class="t" style="left:1085.20px;top:1585.88px;font-size:24px;letter-spacing:1.452px;color:#cfd1d6;">12</div>
<div class="t" style="left:1390.63px;top:1585.88px;font-size:24px;letter-spacing:3.352px;color:#cfd1d6;">2月</div>
<div class="t" style="left:1568.14px;top:1585.88px;font-size:24px;letter-spacing:1.452px;color:#cfd1d6;">12</div>
<div class="t" style="left:1828.45px;top:1585.88px;font-size:24px;letter-spacing:2.852px;color:#cfd1d6;">3月</div>
<div class="t" style="left:2004.82px;top:1585.88px;font-size:24px;letter-spacing:1.452px;color:#cfd1d6;">12</div>
<div class="t" style="left:2311.60px;top:1585.88px;font-size:24px;letter-spacing:3.002px;color:#cfd1d6;">4月</div>
<div class="t" style="left:2488.70px;top:1585.88px;font-size:24px;letter-spacing:1.452px;color:#cfd1d6;">12</div>
<svg style="position:absolute;left:2659px;top:1575px" width="44" height="44" viewBox="0 0 44 44"><path d="M8.3 22 L15.2 10 L28.8 10 L35.7 22 L28.8 34 L15.2 34Z" fill="none" stroke="#cfd1d6" stroke-width="2"/><circle cx="22" cy="22" r="4" fill="none" stroke="#cfd1d6" stroke-width="2"/></svg>
<div class="t" style="left:7.20px;top:5.16px;font-size:31px;letter-spacing:1.372px;color:#d6d6d8;">bitbank</div>
<div class="t" style="left:122.80px;top:5.16px;font-size:31px;letter-spacing:0.000px;color:#d6d6d8;">·</div>
<div class="t" style="left:141.05px;top:5.16px;font-size:31px;letter-spacing:2.858px;color:#d6d6d8;">1日</div>
<div class="t" style="left:198.40px;top:5.16px;font-size:31px;letter-spacing:0.000px;color:#d6d6d8;">·</div>
<div class="t" style="left:215.30px;top:5.16px;font-size:31px;letter-spacing:1.729px;color:#d6d6d8;">btc_jpy</div>
<div class="t" style="left:355px;top:2px;width:36px;height:36px;border-radius:18px;background:#22343c"></div>
<div class="t" style="left:365px;top:12px;width:16px;height:16px;border-radius:8px;background:#43988a"></div>
<div class="t" style="left:423.70px;top:7.77px;font-size:26.5px;letter-spacing:-1.500px;color:#d6d6d8;">始値</div>
<div class="t" style="left:477.90px;top:7.77px;font-size:26.5px;letter-spacing:1.597px;color:#43988a;">12520000</div>
<div class="t" style="left:618.95px;top:7.77px;font-size:26.5px;letter-spacing:-1.050px;color:#d6d6d8;">高値</div>
<div class="t" style="left:673.90px;top:7.77px;font-size:26.5px;letter-spacing:1.555px;color:#43988a;">12739998</div>
<div class="t" style="left:814.70px;top:7.77px;font-size:26.5px;letter-spacing:-0.800px;color:#d6d6d8;">安値</div>
<div class="t" style="left:870.00px;top:7.77px;font-size:26.5px;letter-spacing:1.455px;color:#43988a;">12500398</div>
<div class="t" style="left:1010.75px;top:7.77px;font-size:26.5px;letter-spacing:-1.650px;color:#d6d6d8;">終値</div>
<div class="t" style="left:1065.50px;top:7.77px;font-size:26.5px;letter-spacing:1.440px;color:#43988a;">12736373</div>
<div class="t" style="left:1206.05px;top:7.77px;font-size:26.5px;letter-spacing:1.589px;color:#43988a;">+216373</div>
<div class="t" style="left:1327.90px;top:7.77px;font-size:26.5px;letter-spacing:0.844px;color:#43988a;">(+1.73%)</div>
<div class="t" style="left:9.20px;top:57.97px;font-size:26.5px;letter-spacing:-0.173px;color:#d6d6d8;">Volume</div>
<div class="t" style="left:106.20px;top:57.97px;font-size:26.5px;letter-spacing:0.000px;color:#d6d6d8;">(</div>
<div class="t" style="left:113.70px;top:57.97px;font-size:26.5px;letter-spacing:0.075px;color:#d6d6d8;">出来高</div>
<div class="t" style="left:194.05px;top:57.97px;font-size:26.5px;letter-spacing:0.000px;color:#d6d6d8;">)</div>
<div class="t" style="left:219.35px;top:57.97px;font-size:26.5px;letter-spacing:1.812px;color:#43988a;">24</div>
<div class="t" style="left:7.30px;top:105.57px;font-size:26.5px;letter-spacing:-1.650px;color:#d6d6d8;">EMA</div>
<div class="t" style="left:79.90px;top:105.57px;font-size:26.5px;letter-spacing:1.619px;color:#4fb8d8;">13944762</div>
<div class="t" style="left:7.30px;top:153.27px;font-size:26.5px;letter-spacing:-1.650px;color:#d6d6d8;">EMA</div>
<div class="t" style="left:79.90px;top:153.27px;font-size:26.5px;letter-spacing:1.583px;color:#ffee58;">14729063</div>
<div class="t" style="left:8.30px;top:201.27px;font-size:26.5px;letter-spacing:-0.825px;color:#d6d6d8;">一目均衡表</div>
<div class="t" style="left:138.75px;top:200.73px;font-size:23px;letter-spacing:0.000px;color:#d6d6d8;">®</div>
<div class="t" style="left:172.70px;top:201.27px;font-size:26.5px;letter-spacing:1.512px;color:#5ea24d;">12736373</div>
<div class="t" style="left:314.20px;top:201.27px;font-size:26.5px;letter-spacing:1.533px;color:#a5d6a7;">13857537</div>
<div class="t" style="left:456.10px;top:201.27px;font-size:26.5px;letter-spacing:1.647px;color:#ef9a9a;">14684269</div>
<div class="t" style="left:8.3px;top:242.2px;width:57.5px;height:41.3px;border:2px solid #393d49;border-radius:6px;box-sizing:border-box"></div>
<svg style="position:absolute;left:24px;top:252px" width="26" height="22" viewBox="0 0 26 22"><path d="M5.5 14.5 L13 7.5 L20.5 14.5" fill="none" stroke="#d4d6dc" stroke-width="2.4"/></svg>
<div class="t" style="left:13.2px;top:1476.2px;width:67.6px;height:67.6px;border-radius:34px;background:#131522;border:2px solid #444755;box-sizing:border-box"></div>
<svg style="position:absolute;left:0px;top:1470px" width="100" height="80" viewBox="0 1470 100 80"><path d="M25.8 1499.8 H44.2 V1522.1 H35.7 V1507.9 H25.8Z" fill="#fff"/><circle cx="49.9" cy="1503.8" r="4.1" fill="#fff"/><path d="M60.4 1499.8 H69 L60.4 1522.1 H49.9Z" fill="#fff"/></svg>
</body></html>
